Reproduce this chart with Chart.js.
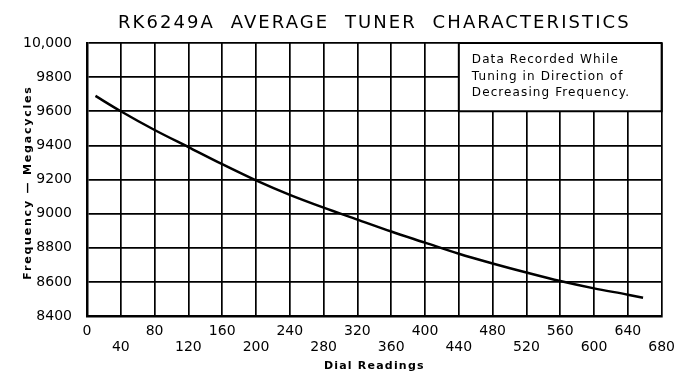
<!DOCTYPE html>
<html>
<head>
<meta charset="utf-8">
<script src="https://cdn.jsdelivr.net/npm/chart.js@4"></script>
<style>
  html, body { margin: 0; padding: 0; background: #fff; }
  #wrap { width: 683px; height: 373px; }
</style>
</head>
<body>
<div id="wrap"><canvas id="grafiek" width="683" height="373"></canvas></div>
<script>
"use strict";
// dial readings and frequency (megacycles)
const dialReadings = [10, 40, 80, 120, 160, 200, 240, 280, 320, 360, 400, 440, 480, 520, 560, 600, 640, 658];
const frequencies = [9690, 9600, 9490, 9390, 9290, 9195, 9110, 9035, 8965, 8895, 8830, 8765, 8708, 8655, 8605, 8562, 8525, 8507];

const xTicks = [0, 40, 80, 120, 160, 200, 240, 280, 320, 360, 400, 440, 480, 520, 560, 600, 640, 680];
const yTicks = [8400, 8600, 8800, 9000, 9200, 9400, 9600, 9800, 10000];

const titel = "RK6249A  AVERAGE  TUNER  CHARACTERISTICS";
const xTitel = "Dial Readings";
const yTitel = "Frequency \u2014 Megacycles";
const noteLines = ["Data Recorded While", "Tuning in Direction of", "Decreasing Frequency."];
// note box corners in data units
const noteBox = { x0: 440, x1: 680, y0: 9600, y1: 10000 };

const font = "'DejaVu Sans', sans-serif";
const ctx = document.getElementById('grafiek');

// draws title, axis titles and the note box (with letter spacing)
const tekstPlugin = {
    id: 'tekst',
    afterDatasetsDraw(chart) {
        const c = chart.ctx;
        const xs = chart.scales.x;
        const ys = chart.scales.y;

        // note box
        const bx0 = xs.getPixelForValue(noteBox.x0);
        const bx1 = xs.getPixelForValue(noteBox.x1);
        const by0 = ys.getPixelForValue(noteBox.y1);
        const by1 = ys.getPixelForValue(noteBox.y0);
        c.save();
        c.fillStyle = '#fff';
        c.fillRect(bx0, by0, bx1 - bx0, by1 - by0);
        c.strokeStyle = '#000';
        c.lineWidth = 2;
        c.strokeRect(bx0, by0, bx1 - bx0, by1 - by0);
        c.fillStyle = '#000';
        c.font = "12px " + font;
        c.letterSpacing = "1.1px";
        c.textAlign = 'left';
        c.textBaseline = 'middle';
        noteLines.forEach((regel, i) => {
            c.fillText(regel, bx0 + 13, by0 + 17 + i * 16.5);
        });
        c.restore();
    },
    afterDraw(chart) {
        const c = chart.ctx;
        const area = chart.chartArea;
        const midX = (area.left + area.right) / 2;
        c.save();
        c.fillStyle = '#000';
        c.textAlign = 'center';
        c.textBaseline = 'middle';

        c.font = "18px " + font;
        c.letterSpacing = "2.1px";
        c.fillText(titel, midX, 23);

        c.font = "bold 11px " + font;
        c.letterSpacing = "1.2px";
        c.fillText(xTitel, midX, 366);

        c.letterSpacing = "1.8px";
        c.translate(28, (area.top + area.bottom) / 2 + 3);
        c.rotate(-Math.PI / 2);
        c.fillText(yTitel, 0, 0);
        c.restore();
    }
};

let config = {
    type: 'line',
    data: {
        datasets: [{
            data: dialReadings.map((d, i) => ({ x: d, y: frequencies[i] })),
            borderColor: '#000',
            borderWidth: 2.5,
            pointRadius: 0,
            fill: false,
            cubicInterpolationMode: 'monotone'
        }]
    },
    options: {
        responsive: false,
        animation: false,
        layout: { padding: { left: 0, top: 43, right: 17, bottom: 0 } },
        plugins: {
            legend: { display: false },
            tooltip: { enabled: false }
        },
        scales: {
            x: {
                type: 'linear',
                min: xTicks[0],
                max: xTicks[xTicks.length - 1],
                afterBuildTicks: (scale) => { scale.ticks = xTicks.map(v => ({ value: v })); },
                afterFit: (scale) => { scale.height = 57; },
                grid: { color: '#000', lineWidth: 1.7, drawTicks: false },
                border: { color: '#000', width: 2.5 },
                ticks: {
                    autoSkip: false,
                    maxRotation: 0,
                    padding: 8,
                    color: '#000',
                    font: { family: font, size: 14, lineHeight: 1.1 },
                    // staggered labels on two rows
                    callback: (v, i) => (i % 2 === 0 ? [String(v), ''] : ['', String(v)])
                }
            },
            y: {
                type: 'linear',
                min: yTicks[0],
                max: yTicks[yTicks.length - 1],
                afterBuildTicks: (scale) => { scale.ticks = yTicks.map(v => ({ value: v })); },
                afterFit: (scale) => { scale.width = 87; },
                grid: { color: '#000', lineWidth: 1.7, drawTicks: false },
                border: { color: '#000', width: 2.5 },
                ticks: {
                    padding: 15,
                    color: '#000',
                    font: { family: font, size: 14 },
                    callback: (v) => (v === 10000 ? '10,000' : String(v))
                }
            }
        }
    },
    plugins: [tekstPlugin]
};

const chart = new Chart(ctx, config);
</script>
</body>
</html>
